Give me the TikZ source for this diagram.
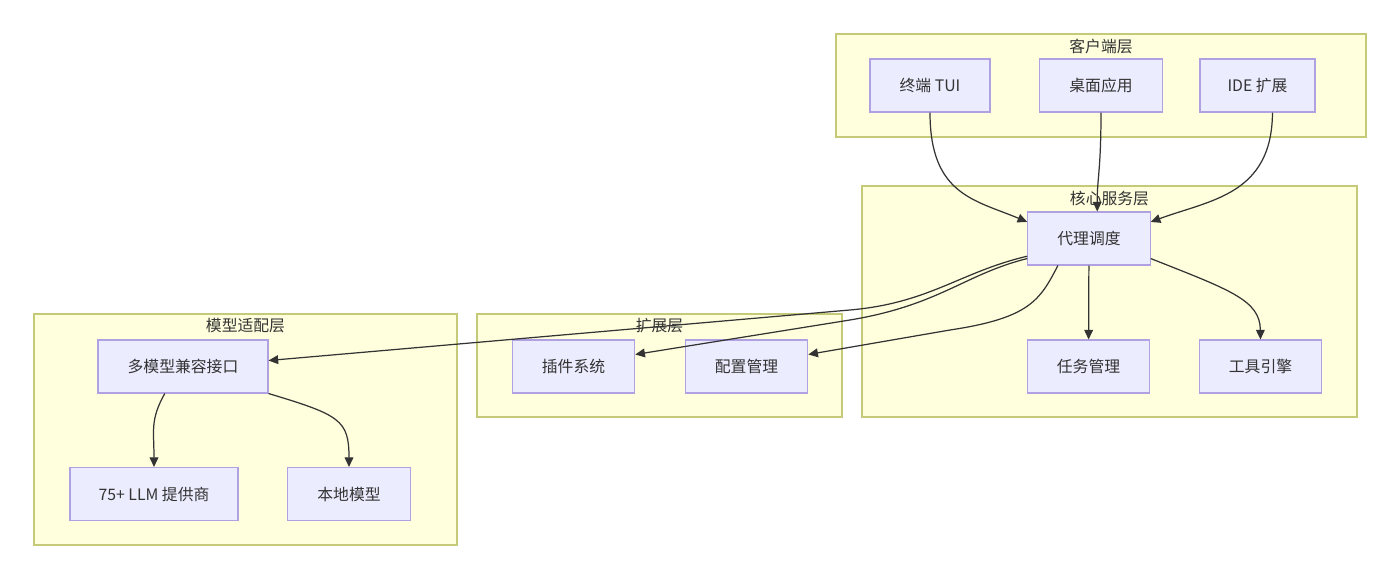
\documentclass[tikz,border=0pt]{standalone}
\usepackage{fontspec}
\setmainfont{Noto Sans CJK SC}
\usepackage{tikz}
\usetikzlibrary{arrows,arrows.meta,shapes,positioning}
\usepackage{xcolor}
\definecolor{mmnode}{RGB}{236,236,255}
\definecolor{mmborder}{RGB}{176,162,226}
\definecolor{mmlayer}{RGB}{255,255,222}
\definecolor{mmlayerborder}{RGB}{196,202,120}
\definecolor{mmline}{RGB}{51,51,51}
\tikzstyle{arrow} = [->,>=stealth,color=mmline,line width=0.7pt]

\begin{document}
\begin{tikzpicture}[
    x=0.02cm, y=-0.02cm,
    font=\fontsize{9pt}{11pt}\selectfont,
    module/.style={rectangle, draw=mmborder, fill=mmnode, line width=0.6pt, minimum width=2.45cm, minimum height=1.06cm, text=mmline, text centered},
    layer/.style={draw=mmlayerborder, fill=mmlayer, line width=0.6pt},
    layertitle/.style={text=mmline, inner sep=0pt},
    relation/.style={-{Triangle[length=5.5pt,width=5pt]}, mmline, line width=0.7pt}
]
\useasboundingbox (0,0) rectangle (1400,580);

% Layers
\draw[layer] (836,34) rectangle (1366,137);
\node (clienttitle) [layertitle] at (1101,46) {客户端层};
\draw[layer] (862,186) rectangle (1357,417);
\node (coretitle) [layertitle] at (1109.5,199) {核心服务层};
\draw[layer] (477,314) rectangle (842,417);
\node (exttitle) [layertitle] at (659.5,326) {扩展层};
\draw[layer] (34,314) rectangle (457,545);
\node (modeltitle) [layertitle] at (245.5,326) {模型适配层};

% Client layer
\node (tui) [module, minimum width=2.4cm] at (930,85.5) {终端 TUI};
\node (desk) [module] at (1101,85.5) {桌面应用};
\node (ide) [module, minimum width=2.3cm] at (1257.5,85.5) {IDE 扩展};

% Core layer
\node (agent) [module] at (1089,238.5) {代理调度};
\node (task) [module] at (1088.5,366.5) {任务管理};
\node (tool) [module] at (1260.5,366.5) {工具引擎};

% Extension layer
\node (plugin) [module] at (573.5,366.5) {插件系统};
\node (config) [module] at (746.5,366.5) {配置管理};

% Model layer
\node (model) [module, minimum width=3.4cm] at (183,366.5) {多模型兼容接口};
\node (llm) [module, minimum width=3.36cm] at (154,494) {75+ LLM 提供商};
\node (local) [module] at (349,494) {本地模型};

% Connections
\draw[relation] (tui.south) .. controls (930,195) and (975,200) .. (agent.165);
\draw[relation] (desk.south) .. controls (1101,170) and (1097,180) .. (agent.73);
\draw[relation] (ide.299) .. controls (1272,195) and (1210,200) .. (agent.15);
\draw[relation] (agent.196) .. controls (960,272) and (930,303) .. (850,310) -- (model.4);
\draw[relation] (agent.198) .. controls (965,274) and (940,305) .. (850,320) -- (plugin.11);
\draw[relation] (agent.221) .. controls (1040,300) and (1030,318) .. (950,330) -- (config.11);
\draw[relation] (agent) -- (task);
\draw[relation] (agent.342) .. controls (1230,290) and (1260,300) .. (tool.north);
\draw[relation] (model.236) .. controls (150,420) and (154,430) .. (llm.north);
\draw[relation] (model.south east) .. controls (340,415) and (349,420) .. (local.north);
\end{tikzpicture}
\end{document}
